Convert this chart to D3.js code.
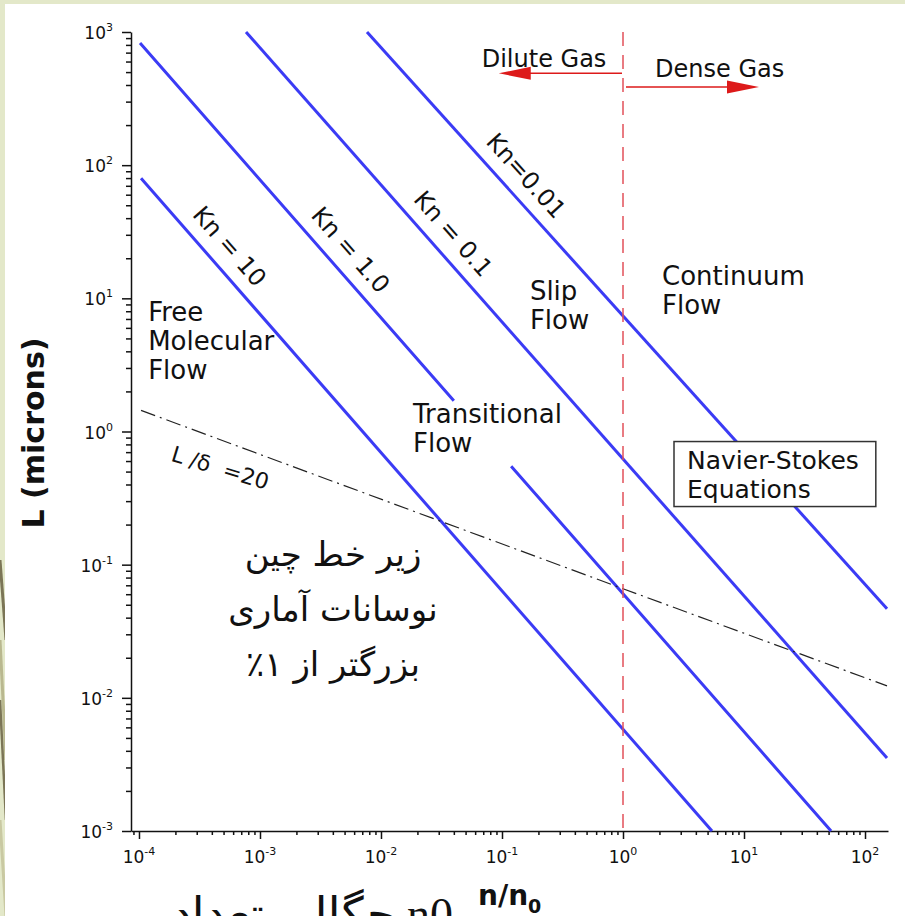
<!DOCTYPE html>
<html lang="en">
<head>
<meta charset="UTF-8">
<title>Knudsen regimes</title>
<script src="https://d3js.org/d3.v7.min.js"></script>
<style>
    body { margin: 0; background: #e3e8c9; }
    text { font-family: "DejaVu Sans", sans-serif; fill: #111; }
</style>
</head>
<body>
<div id="chart"></div>
<script>
// Kn lines: start / end points (n/n0, L in microns)
var knLabels = ["Kn = 10", "Kn = 1.0", "Kn = 0.1", "Kn=0.01"];
var knStartN = [1.04e-4, 1.02e-4, 7.66e-4, 7.66e-3];
var knStartL = [79.8, 827, 1000, 1000];
var knEndN = [5.44, 52.4, 152, 152];
var knEndL = [1e-3, 1e-3, 3.54e-3, 0.0467];
var knLabelN = [4.1e-4, 4.1e-3, 0.029, 0.116];
// Kn = 1.0 is broken where "Transitional Flow" sits
var knGapFrom = [null, 0.040, null, null];
var knGapTo = [null, 0.119, null, null];

// L / delta = 20 curve
var deltaN = [1.04e-4, 1, 152];
var deltaL = [1.44, 0.066, 0.0123];

// axis exponents
var xTickExp = [-4, -3, -2, -1, 0, 1, 2];
var yTickExp = [-3, -2, -1, 0, 1, 2, 3];

// regime names
var regionNames = [["Free", "Molecular", "Flow"], ["Transitional", "Flow"], ["Slip", "Flow"], ["Continuum", "Flow"]];
var regionN = [1.19e-4, 0.0184, 0.17, 2.1];
var regionL = [6.8, 1.15, 9.7, 12.5];

// gas arrows
var arrowNames = ["Dilute Gas", "Dense Gas"];
var arrowTipN = [0.094, 13.3];
var arrowL = [490, 386];
var arrowTextN = [0.068, 1.84];
var arrowTextL = [546, 459];

var boxLines = ["Navier-Stokes", "Equations"];
var boxN = 3.38, boxL = 0.527;

var noteLines = ["زیر خط چین", "نوسانات آماری", "بزرگتر از ۱٪"];

var W = 905, H = 916;

var svg = d3.select("#chart").append("svg")
    .attr("width", W).attr("height", H)
    .style("display", "block");

// page background
svg.append("rect").attr("x", 5).attr("y", 4).attr("width", W).attr("height", H).attr("fill", "#fff");
[[0, 560, 6, 640, "#7b7556", 3], [0, 640, 6, 760, "#b9b88f", 3], [0, 700, 6, 820, "#7b7556", 2.5], [0, 820, 6, 916, "#c9c9a2", 3]].forEach(function(s) {
    svg.append("line").attr("x1", s[0]).attr("y1", s[1]).attr("x2", s[2]).attr("y2", s[3])
        .attr("stroke", s[4]).attr("stroke-width", s[5]);
});
svg.append("rect").attr("x", 5).attr("y", 540).attr("width", 20).attr("height", 380).attr("fill", "#fff");

// scales
var x = d3.scaleLog().domain([Math.pow(10, -4.066), Math.pow(10, 2.19)]).range([131, 888]);
var y = d3.scaleLog().domain([1e-3, 1e3]).range([831, 32]);

function isMajor(d) { return Math.abs(Math.log10(d) - Math.round(Math.log10(d))) < 1e-6; }

// axes
var gx = svg.append("g").attr("transform", "translate(0,831)")
    .call(d3.axisBottom(x).tickSize(8).tickSizeOuter(0).tickFormat(""));
gx.selectAll(".tick line").attr("y2", function(d) { return isMajor(d) ? 8 : 4; });
var gy = svg.append("g").attr("transform", "translate(131,0)")
    .call(d3.axisLeft(y).tickSize(9).tickSizeOuter(0).tickFormat(""));
gy.selectAll(".tick line").attr("x2", function(d) { return isMajor(d) ? -9 : -5; });
svg.selectAll(".domain, .tick line").attr("stroke", "#111").attr("stroke-width", 1.5);

// tick labels
var xl = svg.append("g").selectAll("text").data(xTickExp).enter().append("text")
    .attr("x", function(d) { return x(Math.pow(10, d)); })
    .attr("y", 863)
    .attr("text-anchor", "middle")
    .style("font-size", "17px");
xl.append("tspan").text("10");
xl.append("tspan").attr("dy", -8).style("font-size", "11px").text(function(d) { return d; });

var yl = svg.append("g").selectAll("text").data(yTickExp).enter().append("text")
    .attr("x", 113)
    .attr("y", function(d) { return y(Math.pow(10, d)) + 7; })
    .attr("text-anchor", "end")
    .style("font-size", "17px");
yl.append("tspan").text("10");
yl.append("tspan").attr("dy", -8).style("font-size", "11px").text(function(d) { return d; });

// axis titles
var xt = svg.append("text").attr("x", 478).attr("y", 905)
    .style("font-size", "28px").style("font-weight", "bold");
xt.append("tspan").text("n/n");
xt.append("tspan").attr("dy", 8).style("font-size", "19px").text("0");

svg.append("text")
    .attr("transform", "translate(44,433) rotate(-90)")
    .attr("text-anchor", "middle")
    .style("font-size", "30px").style("font-weight", "bold")
    .text("L (microns)");

// Kn lines
var line = d3.line().x(function(d) { return x(d[0]); }).y(function(d) { return y(d[1]); });
knLabels.forEach(function(lab, i) {
    var pts = [[knStartN[i], knStartL[i]], [knEndN[i], knEndL[i]]];
    var p = svg.append("path").attr("d", line(pts))
        .attr("fill", "none").attr("stroke", "#3b3bf5").attr("stroke-width", 3);
    if (knGapFrom[i] != null) {
        var x0 = x(knStartN[i]), x1 = x(knEndN[i]);
        var len = p.node().getTotalLength();
        var a = (x(knGapFrom[i]) - x0) / (x1 - x0) * len;
        var b = (x(knGapTo[i]) - x0) / (x1 - x0) * len;
        p.attr("stroke-dasharray", a + "," + (b - a) + "," + len);
    }
});

// L / delta line
svg.append("path")
    .attr("d", line(deltaN.map(function(n, i) { return [n, deltaL[i]]; })))
    .attr("fill", "none").attr("stroke", "#222").attr("stroke-width", 1.2)
    .attr("stroke-dasharray", "15,5,2,5");

// red dense / dilute divide
svg.append("line")
    .attr("x1", x(1)).attr("x2", x(1))
    .attr("y1", y(1e3)).attr("y2", y(1e-3))
    .attr("stroke", "#e2505a").attr("stroke-width", 1.5)
    .attr("stroke-dasharray", "14,9");

arrowNames.forEach(function(name, i) {
    var x0 = x(1) + (i == 0 ? -1 : 3), xt = x(arrowTipN[i]), yy = y(arrowL[i]);
    var dir = xt < x0 ? 1 : -1;
    svg.append("line").attr("x1", x0).attr("x2", xt + dir * 20).attr("y1", yy).attr("y2", yy)
        .attr("stroke", "#dd1a1a").attr("stroke-width", 1.5);
    svg.append("path")
        .attr("d", "M" + xt + "," + yy + "L" + (xt + dir * 32) + "," + (yy - 6.5) + "L" + (xt + dir * 32) + "," + (yy + 6.5) + "Z")
        .attr("fill", "#dd1a1a");
    svg.append("text").attr("x", x(arrowTextN[i])).attr("y", y(arrowTextL[i]))
        .style("font-size", "24px").text(name);
});

// regime names
regionNames.forEach(function(lines, i) {
    var t = svg.append("text").attr("x", x(regionN[i])).attr("y", y(regionL[i])).style("font-size", "26px");
    lines.forEach(function(s, j) {
        t.append("tspan").attr("x", x(regionN[i])).attr("dy", j == 0 ? 0 : 29).text(s);
    });
});

// Kn labels along the lines
knLabels.forEach(function(lab, i) {
    var x0 = x(knStartN[i]), y0 = y(knStartL[i]), x1 = x(knEndN[i]), y1 = y(knEndL[i]);
    var a = Math.atan2(y1 - y0, x1 - x0);
    var px = x(knLabelN[i]);
    var py = y0 + (px - x0) / (x1 - x0) * (y1 - y0);
    var off = 22;
    var cx = px + Math.sin(a) * off, cy = py - Math.cos(a) * off;
    svg.append("text")
        .attr("transform", "translate(" + cx + "," + cy + ") rotate(" + (a * 180 / Math.PI) + ")")
        .attr("text-anchor", "middle").attr("dy", "0.35em")
        .style("font-size", "24px").text(lab);
});

// L / delta label
svg.append("text")
    .attr("transform", "translate(" + x(1.8e-4) + "," + y(0.605) + ") rotate(17)")
    .style("font-size", "22px").style("white-space", "pre")
    .text("L /δ  =20");

// Navier-Stokes box
var bg = svg.append("g");
var bt = bg.append("text").attr("x", x(boxN)).attr("y", y(boxL)).style("font-size", "25px");
boxLines.forEach(function(s, j) {
    bt.append("tspan").attr("x", x(boxN)).attr("dy", j == 0 ? 0 : 29).text(s);
});
var bb = bt.node().getBBox();
bg.insert("rect", "text").attr("x", bb.x - 13).attr("y", bb.y - 4)
    .attr("width", bb.width + 30).attr("height", bb.height + 7)
    .attr("fill", "#fff").attr("stroke", "#333").attr("stroke-width", 1.5);

// Persian note
svg.append("g").selectAll("text").data(noteLines).enter().append("text")
    .attr("x", 333)
    .attr("y", function(d, i) { return 566 + i * 55; })
    .attr("text-anchor", "middle")
    .attr("direction", "rtl")
    .style("font-family", "'DejaVu Serif', 'DejaVu Sans', serif")
    .style("font-size", "34px")
    .text(function(d) { return d; });

// caption, cut by the bottom edge as in the source slide
svg.append("text")
    .attr("x", 453).attr("y", 930)
    .attr("text-anchor", "end")
    .style("font-family", "'Liberation Serif', 'DejaVu Sans', serif")
    .style("font-size", "46px")
    .text("چگالی تعداد n0");
</script>
</body>
</html>
